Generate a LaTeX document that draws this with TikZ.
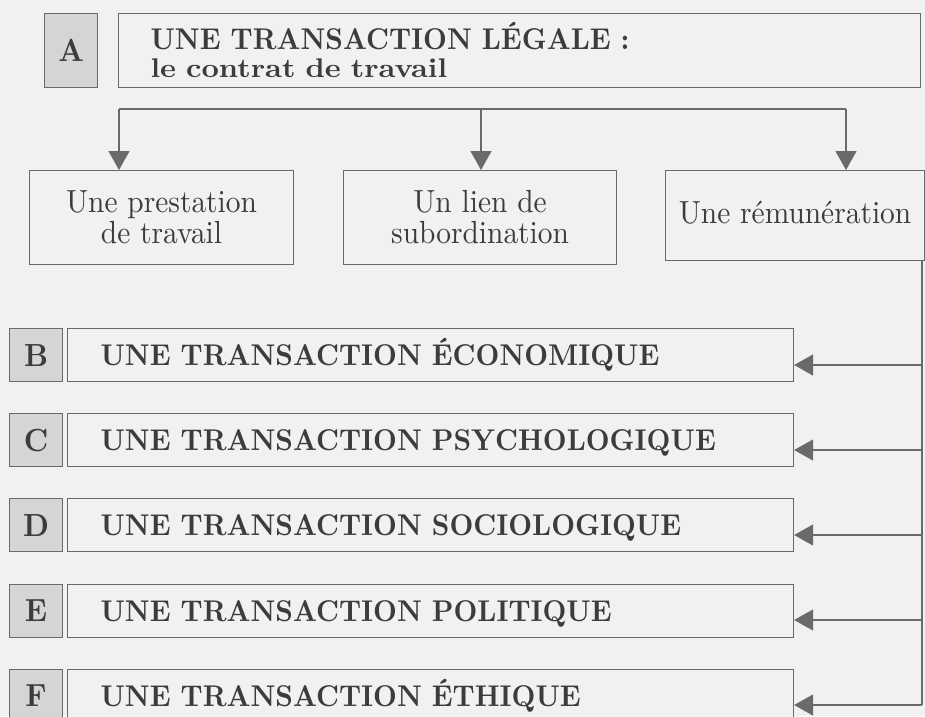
\documentclass[tikz,border=0pt]{standalone}
\usepackage{fontspec}
\usetikzlibrary{arrows.meta}
\newfontfamily\boxfont{lmroman10-regular.otf}[FakeStretch=0.92]
\newfontfamily\capfont{lmroman10-bold.otf}[FakeStretch=0.92]
\newfontfamily\widefont{lmroman10-bold.otf}[FakeStretch=1.12]
\definecolor{paper}{HTML}{F1F1F1}
\definecolor{rule}{HTML}{6A6A6A}
\definecolor{letterfill}{HTML}{D5D5D5}
\definecolor{ink}{HTML}{3C3C3C}

\begin{document}
\begin{tikzpicture}[x=1pt,y=-1pt,line width=1.2pt,draw=rule]
	\fill[paper] (0,0) rectangle (925,716);
	\useasboundingbox (0,0) rectangle (925,716);
	\tikzstyle{every node}=[rectangle,draw=rule,fill=paper,text=ink,line width=1.1pt,anchor=north west,inner sep=0pt]
	\tikzstyle{LT}=[fill=letterfill,minimum width=53pt,font=\capfont\fontsize{32}{30}\selectfont] % LT = letter box
	\tikzstyle{TT}=[minimum height=74pt,text width=738pt,inner xsep=32pt,text height=25pt,text depth=27pt,align=left,font=\capfont\fontsize{30}{26}\selectfont] % TT = title box
	\tikzstyle{TR}=[minimum height=53pt,text width=660pt,inner xsep=33pt,text height=20pt,text depth=0pt,align=left,font=\capfont\fontsize{30}{30}\selectfont] % TR = transaction box
	\tikzstyle{EL}=[minimum height=94pt,text height=52pt,text depth=0pt,align=center,font=\boxfont\fontsize{32}{31}\selectfont] % EL = element box
	\tikzstyle{arr}=[-{Triangle[length=19pt,width=21pt]},draw=rule,fill=ink]

	% A : the legal transaction
	\node[LT,minimum height=74pt] (A) at (44,13) {A};
	\node[TT] (At) at (118,13) {UNE TRANSACTION LÉGALE~:\\[2pt]{\widefont\fontsize{27}{26}\selectfont le contrat de travail}};

	% its three elements
	\node[EL,minimum width=264pt] (Prest) at (29,170) {Une prestation\\de travail};
	\node[EL,minimum width=273pt] (Lien) at (343,170) {Un lien de\\subordination};
	\node[EL,minimum width=259pt,minimum height=90pt,text height=16pt] (Remu) at (665,170) {Une rémunération};

	\coordinate (hl) at (119,109);
	\coordinate (hm) at (481,109);
	\coordinate (hr) at (846,109);
	\draw (hl) -- (hr);
	\draw[arr] (hl) -- (hl |- Prest.north);
	\draw[arr] (hm) -- (hm |- Lien.north);
	\draw[arr] (hr) -- (hr |- Remu.north);

	% B to F
	\node[LT,minimum height=53pt] (B) at (9,328) {B};
	\node[TR] (Bt) at (67,328) {UNE TRANSACTION ÉCONOMIQUE};
	\node[LT,minimum height=53pt] (C) at (9,413) {C};
	\node[TR] (Ct) at (67,413) {UNE TRANSACTION PSYCHOLOGIQUE};
	\node[LT,minimum height=53pt] (D) at (9,498) {D};
	\node[TR] (Dt) at (67,498) {UNE TRANSACTION SOCIOLOGIQUE};
	\node[LT,minimum height=53pt] (E) at (9,584) {E};
	\node[TR] (Et) at (67,584) {UNE TRANSACTION POLITIQUE};
	\node[LT,minimum height=53pt] (F) at (9,669) {F};
	\node[TR] (Ft) at (67,669) {UNE TRANSACTION ÉTHIQUE};

	% right spine, from the wage box down
	\coordinate (rB) at (922,365);
	\coordinate (rC) at (922,450);
	\coordinate (rD) at (922,535);
	\coordinate (rE) at (922,620);
	\coordinate (rF) at (922,705);
	\draw (Remu.south -| rB) -- (rF);
	\draw[arr] (rB) -- (rB -| Bt.east);
	\draw[arr] (rC) -- (rC -| Ct.east);
	\draw[arr] (rD) -- (rD -| Dt.east);
	\draw[arr] (rE) -- (rE -| Et.east);
	\draw[arr] (rF) -- (rF -| Ft.east);
\end{tikzpicture}
\end{document}
